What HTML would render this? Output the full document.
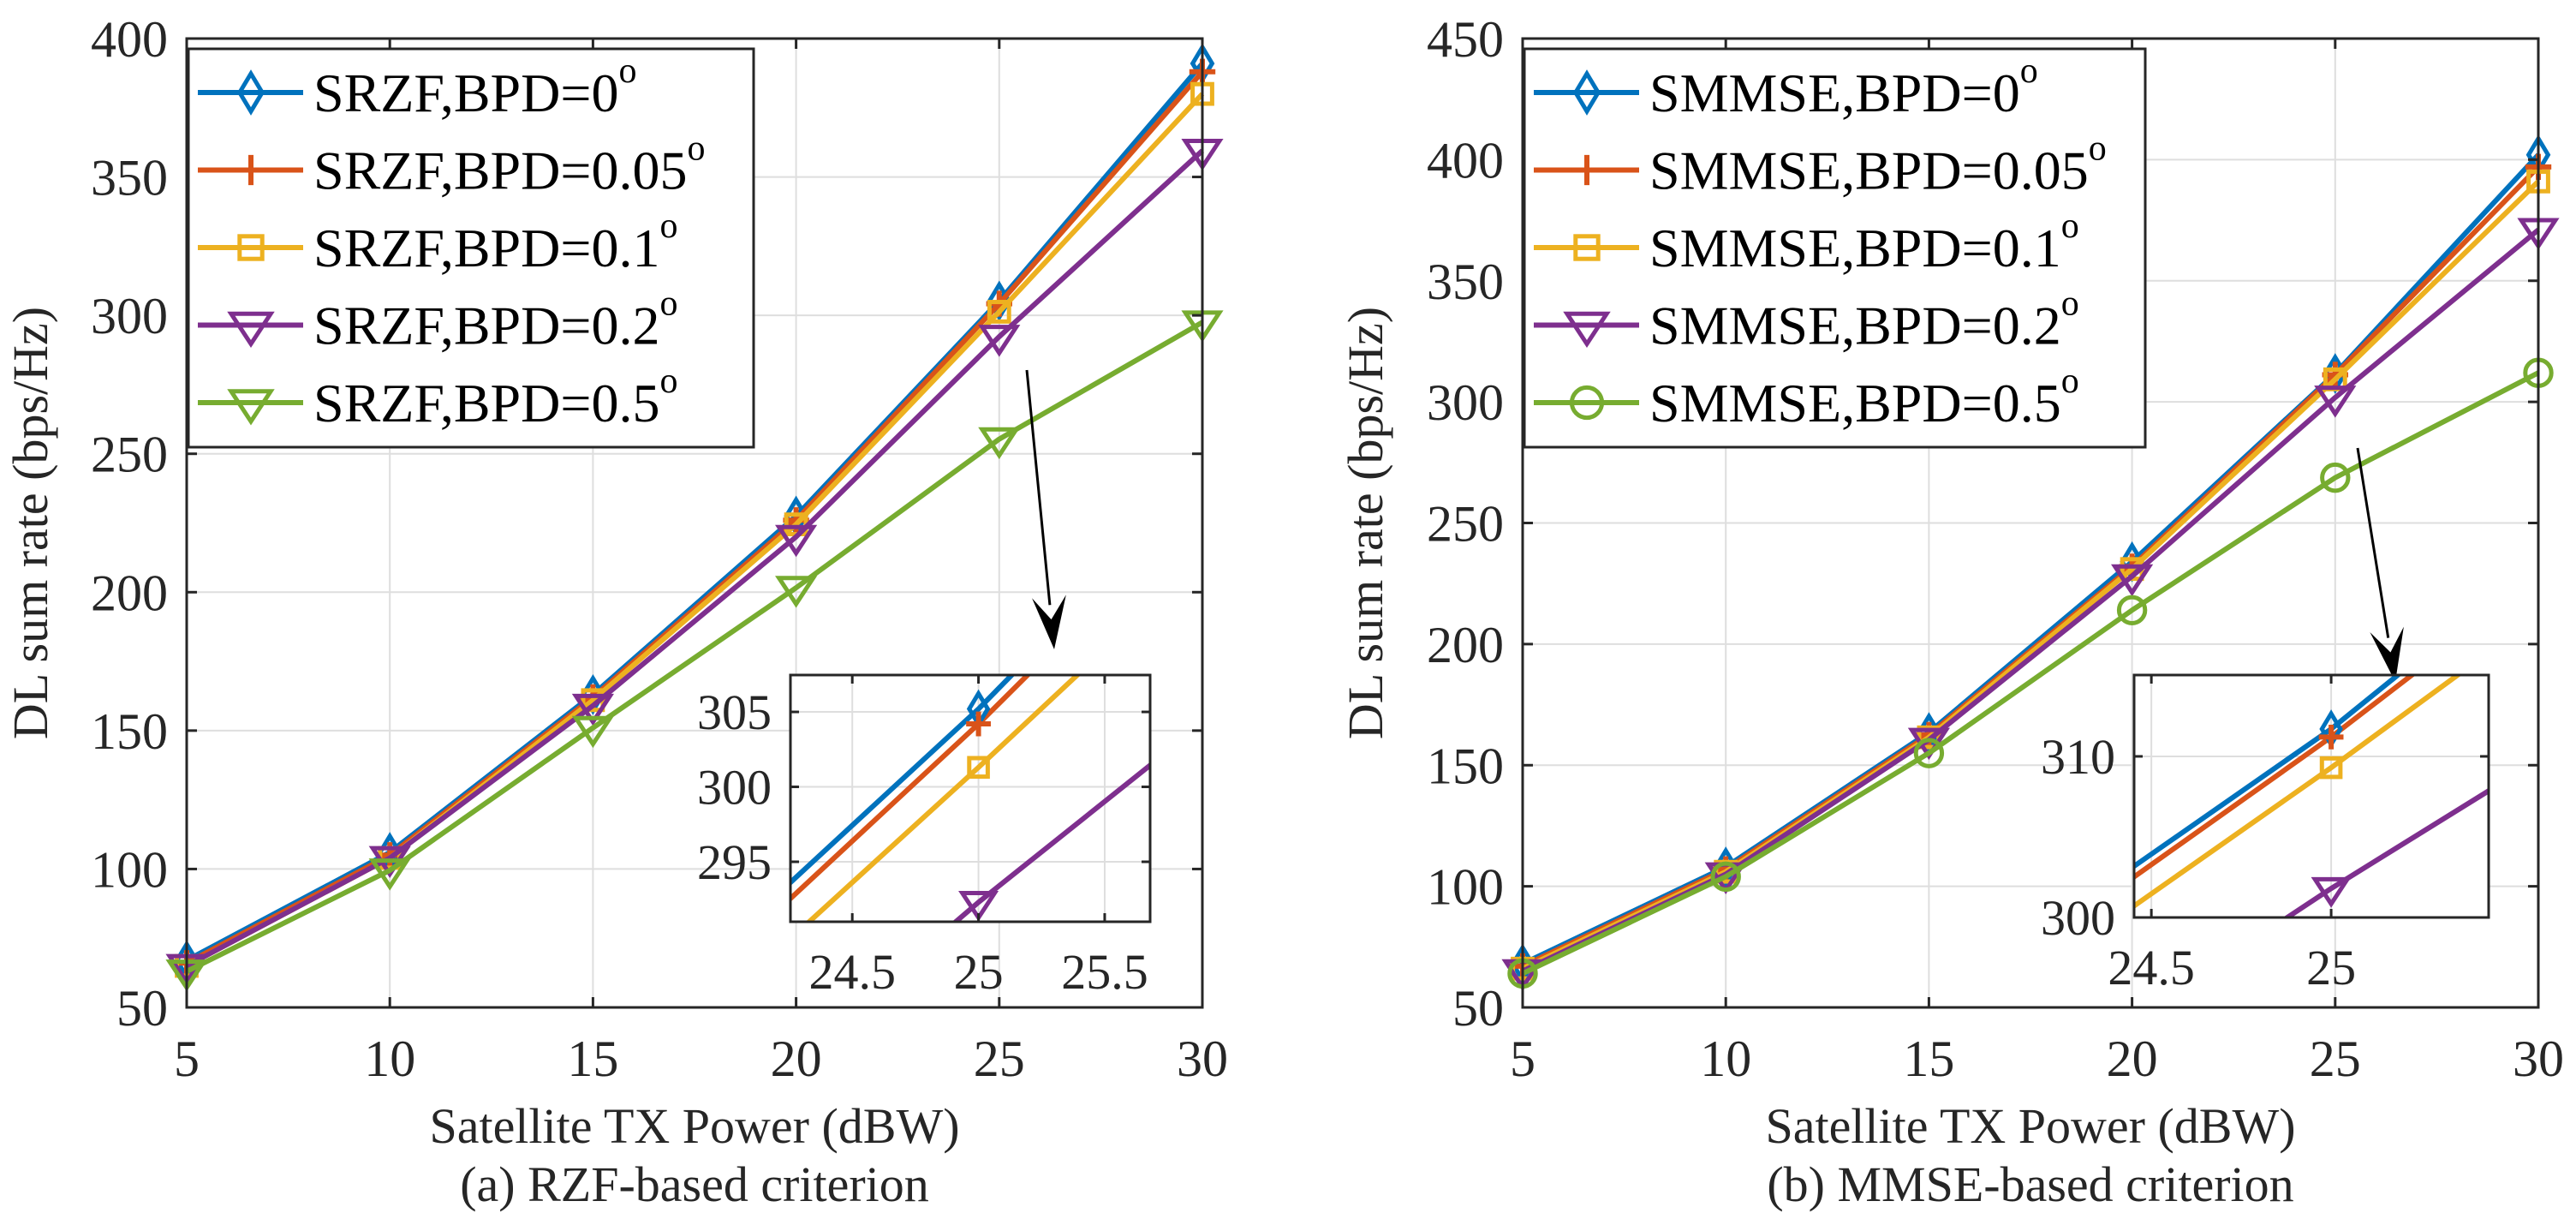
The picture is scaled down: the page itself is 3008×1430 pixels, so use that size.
<!DOCTYPE html>
<html><head><meta charset="utf-8"><style>
html,body{margin:0;padding:0;background:#fff;width:3008px;height:1430px;overflow:hidden}
svg{display:block;font-family:"Liberation Serif","Times New Roman",serif}
text{font-family:"Liberation Serif","Times New Roman",serif}
</style></head><body>
<svg id="fig" width="3008" height="1430" viewBox="0 0 3008 1430" xmlns="http://www.w3.org/2000/svg" font-family="Liberation Serif, serif">
<defs>
<clipPath id="clipA"><rect x="923" y="788" width="420" height="288"/></clipPath>
<clipPath id="clipB"><rect x="2492" y="788" width="414" height="283"/></clipPath>
</defs>
</svg>
<script>
const xCats = [5, 10, 15, 20, 25, 30];
const rzfBPD0 = [67, 106, 163, 227.5, 305.2, 391];
const rzfBPD005 = [66, 105, 162, 226, 304.2, 388];
const rzfBPD01 = [65, 104, 161, 224.5, 301.3, 380];
const rzfBPD02 = [65, 104, 159, 220, 292.3, 359.5];
const rzfBPD05 = [63, 99.5, 151, 201.6, 255.3, 297.5];
const mmseBPD0 = [68, 108, 163.5, 234, 311.7, 402];
const mmseBPD005 = [67, 107, 162.5, 232, 311.2, 397];
const mmseBPD01 = [66, 106, 161.5, 231, 309.3, 391];
const mmseBPD02 = [65, 105, 160.5, 228, 301.8, 371];
const mmseBPD05 = [64, 104, 155, 214, 268.7, 312];
const rzfLabels = ["SRZF,BPD=0", "SRZF,BPD=0.05", "SRZF,BPD=0.1", "SRZF,BPD=0.2", "SRZF,BPD=0.5"];
const mmseLabels = ["SMMSE,BPD=0", "SMMSE,BPD=0.05", "SMMSE,BPD=0.1", "SMMSE,BPD=0.2", "SMMSE,BPD=0.5"];
const xTicks = [5, 10, 15, 20, 25, 30];
const yTicksA = [50, 100, 150, 200, 250, 300, 350, 400];
const yTicksB = [50, 100, 150, 200, 250, 300, 350, 400, 450];
const insetXTicksA = [24.5, 25, 25.5];
const insetYTicksA = [295, 300, 305];
const insetXTicksB = [24.5, 25];
const insetYTicksB = [300, 310];

const NS = "http://www.w3.org/2000/svg";
const svg = document.getElementById("fig");
const colors = ["#0072BD", "#D95319", "#EDB120", "#7E2F8E", "#77AC30"];
const FONT = "Liberation Serif, serif";

function mk(tag, attrs, parent) {
  const e = document.createElementNS(NS, tag);
  for (const k in attrs) e.setAttribute(k, attrs[k]);
  if (tag === "text") e.setAttribute("font-family", FONT);
  (parent || svg).appendChild(e);
  return e;
}

function marker(g, type, cx, cy, color, s) {
  let m;
  if (type === "diamond") {
    m = mk("polygon", {points: `${cx},${cy - s} ${cx + s * 0.6},${cy} ${cx},${cy + s} ${cx - s * 0.6},${cy}`, fill: "none", stroke: color, "stroke-width": 5}, g);
  } else if (type === "plus") {
    m = mk("path", {d: `M${cx - s * 0.8},${cy}H${cx + s * 0.8}M${cx},${cy - s * 0.8}V${cy + s * 0.8}`, stroke: color, "stroke-width": 6, fill: "none"}, g);
  } else if (type === "square") {
    m = mk("rect", {x: cx - s * 0.6, y: cy - s * 0.6, width: s * 1.2, height: s * 1.2, fill: "none", stroke: color, "stroke-width": 5}, g);
  } else if (type === "tri") {
    m = mk("polygon", {points: `${cx - s * 1.05},${cy - s * 0.6} ${cx + s * 1.05},${cy - s * 0.6} ${cx},${cy + s}`, fill: "none", stroke: color, "stroke-width": 5}, g);
  } else {
    m = mk("circle", {cx: cx, cy: cy, r: s * 0.8, fill: "none", stroke: color, "stroke-width": 5}, g);
  }
  
  
}

function drawPanel(cfg) {
  const g = mk("g", {});
  
  
  const {L, R, T, B, xmin, xmax, ymin, ymax} = cfg;
  const sx = v => L + (v - xmin) / (xmax - xmin) * (R - L);
  const sy = v => B - (v - ymin) / (ymax - ymin) * (B - T);
  const grid = mk("g", {stroke: "#dedede", "stroke-width": 2}, g);
  
  
  xTicks.forEach(t => mk("line", {x1: sx(t), x2: sx(t), y1: T, y2: B}, grid));
  cfg.yTicks.forEach(t => mk("line", {x1: L, x2: R, y1: sy(t), y2: sy(t)}, grid));
  cfg.series.forEach((ser, i) => {
    const sg = mk("g", {}, g);
    
    
    const pts = xCats.map((x, j) => `${sx(x)},${sy(ser[j])}`).join(" ");
    mk("polyline", {points: pts, fill: "none", stroke: colors[i], "stroke-width": 6, "stroke-linejoin": "round"}, sg);
    xCats.forEach((x, j) => marker(sg, cfg.markers[i], sx(x), sy(ser[j]), colors[i], 19));
  });
  const ax = mk("g", {stroke: "#262626", "stroke-width": 3, fill: "none"}, g);
  
  
  mk("rect", {x: L, y: T, width: R - L, height: B - T}, ax);
  xTicks.forEach(t => { mk("line", {x1: sx(t), x2: sx(t), y1: B, y2: B - 12}, ax); mk("line", {x1: sx(t), x2: sx(t), y1: T, y2: T + 12}, ax); });
  cfg.yTicks.forEach(t => { mk("line", {x1: L, x2: L + 12, y1: sy(t), y2: sy(t)}, ax); mk("line", {x1: R, x2: R - 12, y1: sy(t), y2: sy(t)}, ax); });
  xTicks.forEach(t => {
    const e = mk("text", {x: sx(t), y: B + 80, "text-anchor": "middle", "font-size": 60, fill: "#262626"}, g);
    e.textContent = t;
    
    
  });
  cfg.yTicks.forEach(t => {
    const e = mk("text", {x: L - 22, y: sy(t) + 21, "text-anchor": "end", "font-size": 60, fill: "#262626"}, g);
    e.textContent = t;
    
    
  });
  const xt = mk("text", {x: (L + R) / 2, y: B + 158, "text-anchor": "middle", "font-size": 58, fill: "#262626"}, g);
  xt.textContent = "Satellite TX Power (dBW)";
  
  
  const cap = mk("text", {x: (L + R) / 2, y: B + 226, "text-anchor": "middle", "font-size": 58, fill: "#262626"}, g);
  cap.textContent = cfg.caption;
  
  
  const yt = mk("text", {x: 0, y: 0, "text-anchor": "middle", "font-size": 58, fill: "#262626", transform: `translate(${cfg.yLabelX},${(T + B) / 2}) rotate(-90)`}, g);
  yt.textContent = "DL sum rate (bps/Hz)";
  
  
  const lg = mk("g", {}, g);
  
  
  mk("rect", {x: L + 2, y: 57, width: cfg.legW, height: 465, fill: "#fff", stroke: "#262626", "stroke-width": 3}, lg);
  cfg.labels.forEach((lab, i) => {
    const cy = 108 + i * 90.5;
    const le = mk("g", {}, lg);
    
    
    mk("line", {x1: L + 13, x2: L + 136, y1: cy, y2: cy, stroke: colors[i], "stroke-width": 6}, le);
    marker(le, cfg.markers[i], L + 75, cy, colors[i], 22);
    const tx = mk("text", {x: L + 148, y: cy + 22, "font-size": 64, fill: "#000"}, le);
    tx.textContent = lab;
    const sup = mk("tspan", {dy: -34, "font-size": 42}, tx);
    sup.textContent = "o";
  });
  const ar = mk("g", {}, g);
  
  
  const [x1, y1, x2, y2] = cfg.arrow;
  const ang = Math.atan2(y2 - y1, x2 - x1);
  const bx = x2 - 52 * Math.cos(ang), by = y2 - 52 * Math.sin(ang);
  mk("line", {x1: x1, y1: y1, x2: bx, y2: by, stroke: "#000", "stroke-width": 3}, ar);
  const px = -Math.sin(ang), py = Math.cos(ang);
  const nx = x2 - 35 * Math.cos(ang), ny = y2 - 35 * Math.sin(ang);
  mk("polygon", {points: `${x2},${y2} ${bx + 20 * px - 10 * Math.cos(ang)},${by + 20 * py - 10 * Math.sin(ang)} ${nx},${ny} ${bx - 20 * px - 10 * Math.cos(ang)},${by - 20 * py - 10 * Math.sin(ang)}`, fill: "#000"}, ar);
  const I = cfg.inset;
  const ig = mk("g", {}, g);
  
  
  const ix = v => I.L + (v - I.xmin) / (I.xmax - I.xmin) * (I.R - I.L);
  const iy = v => I.B - (v - I.ymin) / (I.ymax - I.ymin) * (I.B - I.T);
  mk("rect", {x: I.L, y: I.T, width: I.R - I.L, height: I.B - I.T, fill: "#fff"}, ig);
  const igr = mk("g", {stroke: "#dedede", "stroke-width": 2}, ig);
  I.xt.forEach(t => mk("line", {x1: ix(t), x2: ix(t), y1: I.T, y2: I.B}, igr));
  I.yt.forEach(t => mk("line", {x1: I.L, x2: I.R, y1: iy(t), y2: iy(t)}, igr));
  const cl = mk("g", {"clip-path": `url(#${I.clip})`}, ig);
  cfg.series.slice(0, 4).forEach((ser, i) => {
    const pts = xCats.map((x, j) => `${ix(x)},${iy(ser[j])}`).join(" ");
    const pl = mk("polyline", {points: pts, fill: "none", stroke: colors[i], "stroke-width": 6}, cl);
    
    
  });
  cfg.series.slice(0, 4).forEach((ser, i) => marker(ig, cfg.markers[i], ix(xCats[4]), iy(ser[4]), colors[i], 18));
  const iax = mk("g", {stroke: "#262626", "stroke-width": 3, fill: "none"}, ig);
  mk("rect", {x: I.L, y: I.T, width: I.R - I.L, height: I.B - I.T}, iax);
  I.xt.forEach(t => { mk("line", {x1: ix(t), x2: ix(t), y1: I.B, y2: I.B - 10}, iax); mk("line", {x1: ix(t), x2: ix(t), y1: I.T, y2: I.T + 10}, iax); });
  I.yt.forEach(t => { mk("line", {x1: I.L, x2: I.L + 10, y1: iy(t), y2: iy(t)}, iax); mk("line", {x1: I.R, x2: I.R - 10, y1: iy(t), y2: iy(t)}, iax); });
  I.xt.forEach(t => {
    const e = mk("text", {x: ix(t), y: I.B + 78, "text-anchor": "middle", "font-size": 58, fill: "#262626"}, ig);
    e.textContent = t;
    
    
  });
  I.yt.forEach(t => {
    const e = mk("text", {x: I.L - 22, y: iy(t) + 20, "text-anchor": "end", "font-size": 58, fill: "#262626"}, ig);
    e.textContent = t;
    
    
  });
}

drawPanel({
  name: "panel-a-rzf", L: 218, R: 1404, T: 45, B: 1176, xmin: 5, xmax: 30, ymin: 50, ymax: 400,
  yTicks: yTicksA, series: [rzfBPD0, rzfBPD005, rzfBPD01, rzfBPD02, rzfBPD05],
  markers: ["diamond", "plus", "square", "tri", "tri"], labels: rzfLabels, legW: 660,
  caption: "(a) RZF-based criterion", yLabelX: 55, arrow: [1199, 432, 1231, 758],
  inset: {L: 923, R: 1343, T: 788, B: 1076, xmin: 24.255, xmax: 25.68, ymin: 291.0, ymax: 307.46, xt: insetXTicksA, yt: insetYTicksA, clip: "clipA"}
});
drawPanel({
  name: "panel-b-mmse", L: 1778, R: 2964, T: 45, B: 1176, xmin: 5, xmax: 30, ymin: 50, ymax: 450,
  yTicks: yTicksB, series: [mmseBPD0, mmseBPD005, mmseBPD01, mmseBPD02, mmseBPD05],
  markers: ["diamond", "plus", "square", "tri", "circle"], labels: mmseLabels, legW: 725,
  caption: "(b) MMSE-based criterion", yLabelX: 1614, arrow: [2753, 523, 2797, 796],
  inset: {L: 2492, R: 2906, T: 788, B: 1071, xmin: 24.452, xmax: 25.438, ymin: 300, ymax: 315.05, xt: insetXTicksB, yt: insetYTicksB, clip: "clipB"}
});
</script>
</body></html>
